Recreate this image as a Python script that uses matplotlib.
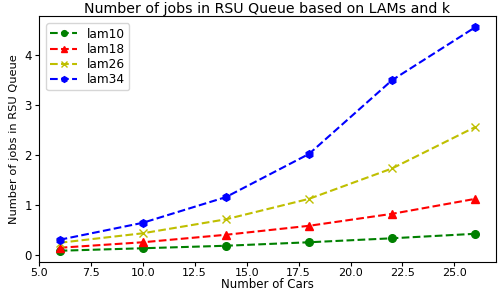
import matplotlib
matplotlib.use("Agg")
import matplotlib.pyplot as plt

cars = [6, 10, 14, 18, 22, 26]
lam10 = [0.08, 0.13, 0.18, 0.25, 0.33, 0.42]
lam18 = [0.14, 0.25, 0.40, 0.58, 0.82, 1.12]
lam26 = [0.24, 0.43, 0.71, 1.12, 1.73, 2.56]
lam34 = [0.30, 0.64, 1.155, 2.02, 3.50, 4.56]
labels = ["lam10", "lam18", "lam26", "lam34"]

fig = plt.figure(figsize=(4.98, 2.92), dpi=100)
ax = fig.add_axes([0.078, 0.103, 0.918, 0.842])
styles = [("g", "o", 5.5), ("r", "^", 5.5), ("y", "x", 5.5), ("b", "h", 5.5)]
for ys, lab, (c, m, ms) in zip([lam10, lam18, lam26, lam34], labels, styles):
    ax.plot(cars, ys, linestyle="--", color=c, marker=m, markersize=ms, linewidth=1.5, label=lab)

ax.set_title("Number of jobs in RSU Queue based on LAMs and k", fontsize=10.2, pad=2.5)
ax.set_xlabel("Number of Cars", fontsize=8.5, labelpad=0)
ax.set_ylabel("Number of jobs in RSU Queue", fontsize=8.2, labelpad=4)
ax.tick_params(axis="x", labelsize=8, length=3, pad=1.5)
ax.tick_params(axis="y", labelsize=8.5, length=3, pad=2)
ax.set_yticks([0, 1, 2, 3, 4])
ax.legend(loc="upper left", fontsize=8.7, handlelength=2.2, borderpad=0.35,
          labelspacing=0.18, markerscale=0.75, handletextpad=0.8,
          bbox_to_anchor=(0.003, 0.995))
fig.savefig("out.png", dpi=100)
